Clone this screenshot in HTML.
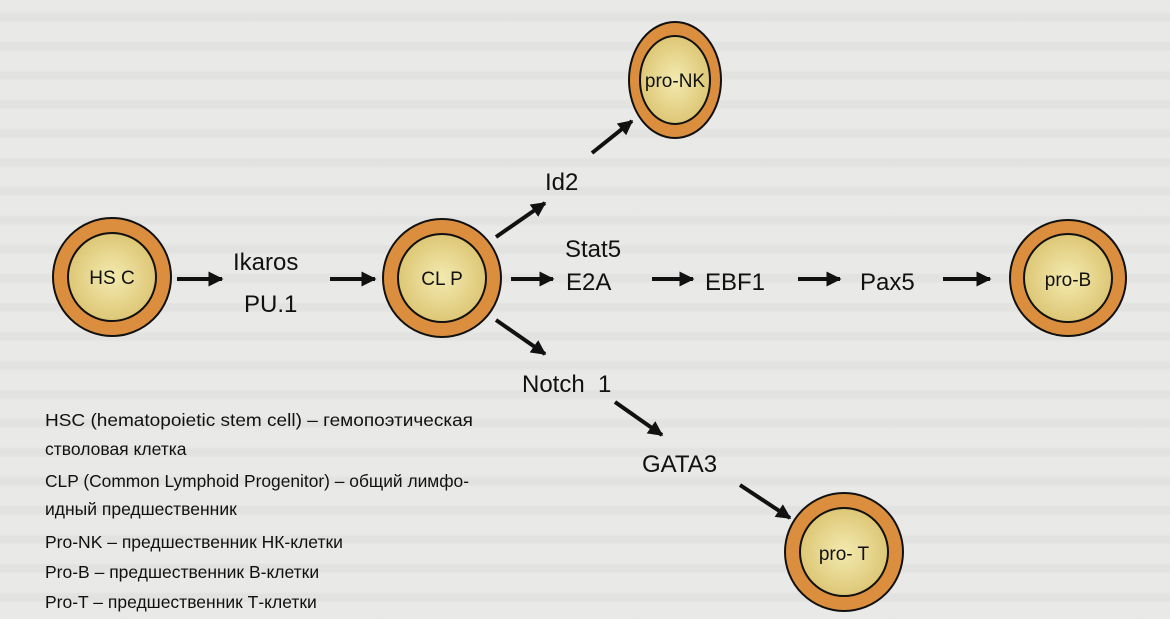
<!DOCTYPE html>
<html><head><meta charset="utf-8"><style>
html,body{margin:0;padding:0;width:1170px;height:619px;overflow:hidden;background:#e8e8e6;}
.bg{position:absolute;left:0;top:0;width:1170px;height:619px;
background:repeating-linear-gradient(180deg,#e9e9e7 0px,#e9e9e7 12px,#e0e0de 14px,#dfdfdd 20px,#e9e9e7 23px,#e9e9e7 29px);opacity:.7}
svg{position:absolute;left:0;top:0}
text{font-family:"Liberation Sans","DejaVu Sans",sans-serif;fill:#111}
</style></head><body>
<div class="bg"></div>
<svg width="1170" height="619" viewBox="0 0 1170 619">
<defs>
<radialGradient id="g" cx="50%" cy="50%" r="60%">
<stop offset="0" stop-color="#f3eab0"/><stop offset="1" stop-color="#d9c06a"/>
</radialGradient>
<marker id="b" viewBox="0 0 10 10" markerWidth="15" markerHeight="15" refX="9" refY="5" orient="auto" markerUnits="userSpaceOnUse">
<path d="M0,0 L10,5 L0,10 Z" fill="#111"/>
</marker>
</defs>
<g stroke="#111" stroke-width="2">
<circle cx="112" cy="277" r="59" fill="#db8f3e"/><circle cx="112" cy="277" r="44" fill="url(#g)"/>
<circle cx="442" cy="278" r="59" fill="#db8f3e"/><circle cx="442" cy="278" r="44" fill="url(#g)"/>
<circle cx="1068" cy="278" r="58" fill="#db8f3e"/><circle cx="1068" cy="278" r="44" fill="url(#g)"/>
<circle cx="844" cy="552" r="59" fill="#db8f3e"/><circle cx="844" cy="552" r="44" fill="url(#g)"/>
<ellipse cx="675" cy="80" rx="46" ry="58" fill="#db8f3e"/><ellipse cx="675" cy="80" rx="35" ry="44" fill="url(#g)"/>
</g>
<g stroke="#111" stroke-width="4" marker-end="url(#b)">
<line x1="177" y1="279" x2="222" y2="279"/>
<line x1="330" y1="279" x2="375" y2="279"/>
<line x1="511" y1="279" x2="553" y2="279"/>
<line x1="652" y1="279" x2="693" y2="279"/>
<line x1="798" y1="279" x2="840" y2="279"/>
<line x1="943" y1="279" x2="990" y2="279"/>
<line x1="496" y1="237" x2="545" y2="203"/>
<line x1="496" y1="320" x2="545" y2="354"/>
<line x1="592" y1="153" x2="632" y2="121"/>
<line x1="615" y1="402" x2="662" y2="435"/>
<line x1="740" y1="485" x2="790" y2="518"/>
</g>
<g font-size="19">
<text x="112" y="284" text-anchor="middle">HS C</text>
<text x="442" y="285" text-anchor="middle">CL P</text>
<text x="1068" y="286" text-anchor="middle">pro-B</text>
<text x="844" y="560" text-anchor="middle">pro- T</text>
<text x="675" y="87" text-anchor="middle">pro-NK</text>
</g>
<g font-size="24">
<text x="233" y="270">Ikaros</text>
<text x="244" y="312">PU.1</text>
<text x="565" y="257">Stat5</text>
<text x="566" y="290">E2A</text>
<text x="705" y="290">EBF1</text>
<text x="860" y="290">Pax5</text>
<text x="545" y="190">Id2</text>
<text x="522" y="392">Notch&#160;&#160;1</text>
<text x="642" y="472">GATA3</text>
</g>
<g font-size="17.5">
<text x="45" y="426" textLength="428" lengthAdjust="spacingAndGlyphs">HSC (hematopoietic stem cell) – гемопоэтическая</text>
<text x="45" y="455">стволовая клетка</text>
<text x="45" y="487" textLength="424" lengthAdjust="spacingAndGlyphs">CLP (Common Lymphoid Progenitor) – общий лимфо-</text>
<text x="45" y="515">идный предшественник</text>
<text x="45" y="548">Pro-NK – предшественник НК-клетки</text>
<text x="45" y="578">Pro-B – предшественник В-клетки</text>
<text x="45" y="608">Pro-T – предшественник Т-клетки</text>
</g>
</svg>
</body></html>
